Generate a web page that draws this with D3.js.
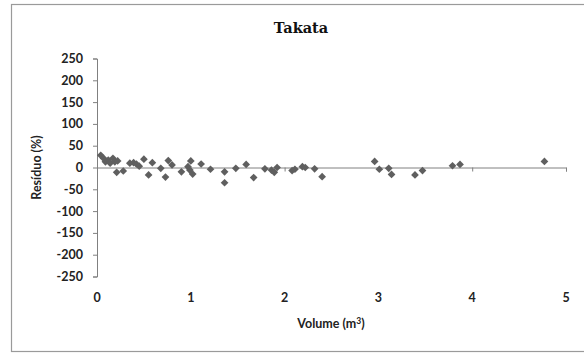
<!DOCTYPE html>
<html>
<head>
<meta charset="utf-8">
<script src="https://cdn.jsdelivr.net/npm/d3@7/dist/d3.min.js"></script>
<style>
  html, body { margin: 0; padding: 0; background: #fff; }
  svg { display: block; }
</style>
</head>
<body>
<svg id="chart" width="584" height="354"></svg>
<script>
// Residuals (%) of the Takata volume model against tree volume (m³)
const volume = [
  0.04, 0.07, 0.09, 0.12, 0.14, 0.17, 0.19, 0.22, 0.21, 0.28,
  0.35, 0.39, 0.42, 0.45, 0.50, 0.55, 0.59, 0.68, 0.73, 0.76,
  0.80, 0.90, 0.97, 0.99, 1.00, 1.02, 1.11, 1.21, 1.36, 1.36,
  1.48, 1.59, 1.67, 1.79, 1.86, 1.89, 1.92, 2.08, 2.11, 2.19,
  2.22, 2.32, 2.40, 2.96, 3.01, 3.11, 3.14, 3.39, 3.47, 3.79,
  3.87, 4.77
];
const residual = [
  28, 21, 13, 17, 10, 21, 13, 15, -11, -8,
  10, 11, 8, 3, 19, -17, 11, -2, -22, 16,
  6, -10, 2, -6, 15, -15, 8, -4, -10, -35,
  -2, 7, -23, -3, -6, -11, 0, -7, -4, 2,
  0, -3, -21, 14, -4, -2, -16, -17, -7, 4,
  7, 14
];
const xTicks = [0, 1, 2, 3, 4, 5];
const yTicks = [250, 200, 150, 100, 50, 0, -50, -100, -150, -200, -250];

const svg = d3.select("#chart");
const labelFont = "Lato, 'Open Sans', sans-serif";
const labelSize = 12.5;

// chart frame
svg.append("rect")
  .attr("x", 11.5).attr("y", 4.5)
  .attr("width", 580).attr("height", 347)
  .attr("fill", "#fff")
  .attr("stroke", "#9a9a9a")
  .attr("stroke-width", 1.2);

const x = d3.scaleLinear().domain([0, 5]).range([97, 566]);
const y = d3.scaleLinear().domain([-250, 250]).range([276.5, 58.5]);

// title
svg.append("text")
  .attr("x", 301).attr("y", 33)
  .attr("text-anchor", "middle")
  .attr("font-family", "'DejaVu Serif', 'Liberation Serif', serif")
  .attr("font-weight", "bold")
  .attr("font-size", 14.5)
  .attr("fill", "#111")
  .text("Takata");

// y axis
const yAxis = svg.append("g")
  .attr("transform", `translate(${x(0)},0)`)
  .call(d3.axisLeft(y).tickValues(yTicks).tickSize(4).tickPadding(10).tickFormat(d => String(d)));
yAxis.select(".domain").attr("stroke", "#808080");
yAxis.selectAll(".tick line").attr("stroke", "#808080");
yAxis.selectAll(".tick text")
  .attr("font-family", labelFont)
  .attr("font-weight", "bold")
  .attr("font-size", labelSize)
  .attr("fill", "#222");

// x axis line crosses at zero; labels sit below the plot
const xAxis = svg.append("g")
  .attr("transform", `translate(0,${y(0)})`)
  .call(d3.axisBottom(x).tickValues(xTicks).tickSize(4).tickFormat(""));
xAxis.select(".domain").attr("stroke", "#808080");
xAxis.selectAll(".tick line").attr("stroke", "#808080");

svg.append("g")
  .selectAll("text")
  .data(xTicks)
  .join("text")
  .attr("x", d => x(d))
  .attr("y", 302)
  .attr("text-anchor", "middle")
  .attr("font-family", labelFont)
  .attr("font-weight", "bold")
  .attr("font-size", labelSize)
  .attr("fill", "#222")
  .text(d => d);

// axis titles
const xTitle = svg.append("text")
  .attr("x", 331).attr("y", 328)
  .attr("text-anchor", "middle")
  .attr("font-family", labelFont)
  .attr("font-weight", "bold")
  .attr("font-size", labelSize)
  .attr("fill", "#222");
xTitle.append("tspan").text("Volume (m");
xTitle.append("tspan").attr("dy", -4).attr("font-size", 8.5).text("3");
xTitle.append("tspan").attr("dy", 4).text(")");

svg.append("text")
  .attr("transform", `translate(41,${y(0)}) rotate(-90)`)
  .attr("text-anchor", "middle")
  .attr("font-family", labelFont)
  .attr("font-weight", "bold")
  .attr("font-size", labelSize)
  .attr("fill", "#222")
  .text("Resíduo (%)");

// diamond markers
const diamond = d3.symbol().type(d3.symbolDiamond2).size(38);
svg.append("g")
  .selectAll("path")
  .data(volume.map((v, i) => [v, residual[i]]))
  .join("path")
  .attr("d", diamond)
  .attr("transform", d => `translate(${x(d[0])},${y(d[1])})`)
  .attr("fill", "#5f5f5f");
</script>
</body>
</html>
